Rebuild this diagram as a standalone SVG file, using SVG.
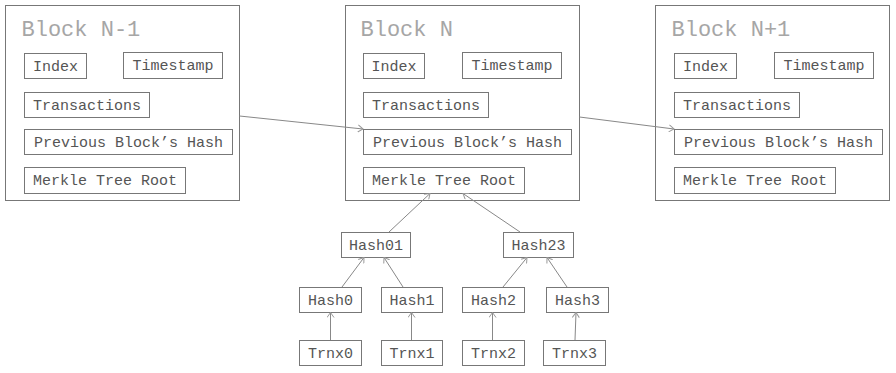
<svg xmlns="http://www.w3.org/2000/svg" width="896" height="373" viewBox="0 0 896 373">
  <style>
    .blk { fill: #fff; stroke: #777; stroke-width: 1; }
    .box { fill: #fff; stroke: #777; stroke-width: 1; }
    .title { font-family: "Liberation Mono", "DejaVu Sans Mono", monospace; font-size: 22px; fill: #a6a6a6; }
    .lbl { font-family: "Liberation Mono", "DejaVu Sans Mono", monospace; font-size: 15px; fill: #555; text-anchor: middle; }
    .edge { fill: none; stroke: #888; stroke-width: 1; marker-end: url(#arr); }
  </style>
  <defs>
    <marker id="arr" viewBox="0 0 6 8" refX="5.5" refY="4" markerWidth="6" markerHeight="8" markerUnits="userSpaceOnUse" orient="auto">
      <path d="M0.5,0.5 L5.5,4 L0.5,7.5" fill="none" stroke="#999" stroke-width="1"/>
    </marker>
  </defs>
  <rect width="896" height="373" fill="#fff"/>

  <!-- Block N-1 -->
  <g id="block-n-minus-1" transform="translate(5.5,5.5)">
    <rect class="blk" x="0" y="0" width="234" height="195"/>
    <text class="title" x="16" y="30">Block N-1</text>
    <rect class="box" x="19" y="48" width="62" height="25"/>
    <text class="lbl" x="50" y="65.5">Index</text>
    <rect class="box" x="118" y="47" width="99" height="26"/>
    <text class="lbl" x="167.5" y="64.5">Timestamp</text>
    <rect class="box" x="19" y="87" width="125" height="25"/>
    <text class="lbl" x="81.5" y="104.5">Transactions</text>
    <rect class="box" x="19" y="124" width="208" height="25"/>
    <text class="lbl" x="123" y="141.5">Previous Block’s Hash</text>
    <rect class="box" x="19" y="162" width="161" height="26"/>
    <text class="lbl" x="99.5" y="179.5">Merkle Tree Root</text>
  </g>

  <!-- Block N -->
  <g id="block-n" transform="translate(345.5,5.5)">
    <rect class="blk" x="0" y="0" width="234" height="195"/>
    <text class="title" x="15" y="30">Block N</text>
    <rect class="box" x="18" y="48" width="61" height="25"/>
    <text class="lbl" x="48.5" y="65.5">Index</text>
    <rect class="box" x="117" y="47" width="99" height="26"/>
    <text class="lbl" x="166.5" y="64.5">Timestamp</text>
    <rect class="box" x="18" y="87" width="125" height="25"/>
    <text class="lbl" x="80.5" y="104.5">Transactions</text>
    <rect class="box" x="18" y="124" width="208" height="25"/>
    <text class="lbl" x="122" y="141.5">Previous Block’s Hash</text>
    <rect class="box" x="18" y="162" width="161" height="26"/>
    <text class="lbl" x="98.5" y="179.5">Merkle Tree Root</text>
  </g>

  <!-- Block N+1 -->
  <g id="block-n-plus-1" transform="translate(655.5,5.5)">
    <rect class="blk" x="0" y="0" width="234" height="195"/>
    <text class="title" x="16" y="30">Block N+1</text>
    <rect class="box" x="19" y="48" width="62" height="25"/>
    <text class="lbl" x="50" y="65.5">Index</text>
    <rect class="box" x="119" y="47" width="99" height="26"/>
    <text class="lbl" x="168.5" y="64.5">Timestamp</text>
    <rect class="box" x="19" y="87" width="125" height="25"/>
    <text class="lbl" x="81.5" y="104.5">Transactions</text>
    <rect class="box" x="19" y="124" width="208" height="25"/>
    <text class="lbl" x="123" y="141.5">Previous Block’s Hash</text>
    <rect class="box" x="19" y="162" width="161" height="26"/>
    <text class="lbl" x="99.5" y="179.5">Merkle Tree Root</text>
  </g>

  <!-- Merkle tree nodes -->
  <g id="hash01"><rect class="box" x="341.5" y="232.5" width="69" height="25"/><text class="lbl" x="376" y="250">Hash01</text></g>
  <g id="hash23"><rect class="box" x="503.5" y="232.5" width="70" height="25"/><text class="lbl" x="538.5" y="250">Hash23</text></g>
  <g id="hash0"><rect class="box" x="299.5" y="287.5" width="62" height="25"/><text class="lbl" x="330.5" y="305">Hash0</text></g>
  <g id="hash1"><rect class="box" x="381.5" y="287.5" width="61" height="25"/><text class="lbl" x="412" y="305">Hash1</text></g>
  <g id="hash2"><rect class="box" x="462.5" y="287.5" width="62" height="25"/><text class="lbl" x="493.5" y="305">Hash2</text></g>
  <g id="hash3"><rect class="box" x="546.5" y="287.5" width="62" height="25"/><text class="lbl" x="577.5" y="305">Hash3</text></g>
  <g id="trnx0"><rect class="box" x="299.5" y="340.5" width="62" height="25"/><text class="lbl" x="330.5" y="358">Trnx0</text></g>
  <g id="trnx1"><rect class="box" x="381.5" y="340.5" width="61" height="25"/><text class="lbl" x="412" y="358">Trnx1</text></g>
  <g id="trnx2"><rect class="box" x="462.5" y="340.5" width="62" height="25"/><text class="lbl" x="493.5" y="358">Trnx2</text></g>
  <g id="trnx3"><rect class="box" x="543.5" y="340.5" width="62" height="25"/><text class="lbl" x="574.5" y="358">Trnx3</text></g>

  <!-- Connectors -->
  <g id="connectors">
    <line class="edge" x1="239.5" y1="116" x2="363" y2="129"/>
    <line class="edge" x1="579.5" y1="117" x2="674" y2="129"/>
    <line class="edge" x1="389" y1="232" x2="430" y2="193.5"/>
    <line class="edge" x1="520" y1="232" x2="463" y2="193.5"/>
    <line class="edge" x1="342" y1="287" x2="364" y2="257.5"/>
    <line class="edge" x1="403" y1="287" x2="384" y2="257.5"/>
    <line class="edge" x1="503" y1="287" x2="527" y2="257.5"/>
    <line class="edge" x1="567" y1="287" x2="547" y2="257.5"/>
    <line class="edge" x1="330.5" y1="340" x2="330.5" y2="312.5"/>
    <line class="edge" x1="411.5" y1="340" x2="411.5" y2="312.5"/>
    <line class="edge" x1="492.5" y1="340" x2="492.5" y2="312.5"/>
    <line class="edge" x1="575" y1="340" x2="576" y2="312.5"/>
  </g>
</svg>
